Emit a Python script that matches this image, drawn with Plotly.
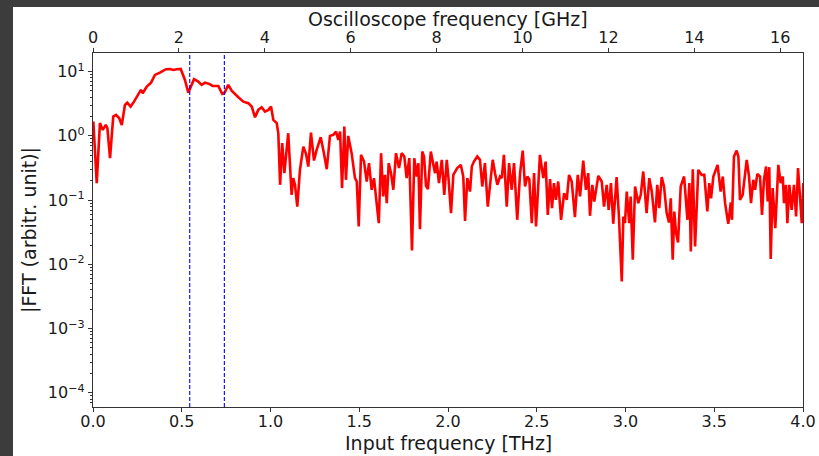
import plotly.graph_objects as go

# Input frequency (THz) and |FFT| amplitude
freq_thz = [
    0.002, 0.021, 0.039, 0.055, 0.072, 0.081, 0.096, 0.114, 0.130, 0.148,
    0.162, 0.180, 0.193, 0.212, 0.231, 0.246, 0.261, 0.270, 0.280, 0.303,
    0.327, 0.349, 0.377, 0.411, 0.434, 0.452, 0.472, 0.494, 0.518, 0.537,
    0.569, 0.593, 0.612, 0.631, 0.655, 0.674, 0.706, 0.728, 0.740, 0.762,
    0.781, 0.800, 0.819, 0.847, 0.875, 0.894, 0.913, 0.931, 0.950, 0.969,
    0.988, 1.003, 1.016, 1.035, 1.044, 1.054, 1.066, 1.078, 1.100, 1.119,
    1.128, 1.138, 1.151, 1.166, 1.185, 1.200, 1.213, 1.228, 1.245, 1.260,
    1.283, 1.301, 1.317, 1.335, 1.354, 1.369, 1.382, 1.392, 1.403, 1.416,
    1.425, 1.438, 1.457, 1.476, 1.486, 1.497, 1.510, 1.527, 1.542, 1.555,
    1.570, 1.583, 1.594, 1.610, 1.623, 1.635, 1.645, 1.655, 1.666, 1.679,
    1.692, 1.707, 1.724, 1.739, 1.754, 1.767, 1.782, 1.797, 1.810, 1.824,
    1.833, 1.842, 1.855, 1.865, 1.876, 1.887, 1.903, 1.917, 1.927, 1.936,
    1.949, 1.965, 1.979, 1.993, 2.002, 2.017, 2.030, 2.052, 2.072, 2.086,
    2.096, 2.109, 2.124, 2.134, 2.146, 2.165, 2.180, 2.193, 2.208, 2.224,
    2.237, 2.252, 2.265, 2.278, 2.293, 2.303, 2.315, 2.331, 2.344, 2.359,
    2.372, 2.390, 2.406, 2.421, 2.434, 2.447, 2.458, 2.472, 2.485, 2.496,
    2.518, 2.537, 2.550, 2.562, 2.575, 2.586, 2.597, 2.608, 2.621, 2.637,
    2.654, 2.669, 2.682, 2.697, 2.715, 2.731, 2.744, 2.762, 2.777, 2.790,
    2.800, 2.813, 2.824, 2.847, 2.866, 2.879, 2.894, 2.905, 2.918, 2.931,
    2.950, 2.963, 2.979, 2.988, 2.997, 3.007, 3.021, 3.029, 3.041, 3.054,
    3.072, 3.086, 3.100, 3.119, 3.134, 3.148, 3.166, 3.179, 3.190, 3.204,
    3.217, 3.232, 3.245, 3.255, 3.266, 3.275, 3.285, 3.296, 3.311, 3.330,
    3.349, 3.360, 3.368, 3.379, 3.392, 3.410, 3.429, 3.444, 3.461, 3.472,
    3.482, 3.495, 3.519, 3.536, 3.548, 3.561, 3.579, 3.593, 3.600, 3.611,
    3.626, 3.636, 3.645, 3.660, 3.683, 3.696, 3.707, 3.720, 3.730, 3.743,
    3.758, 3.769, 3.780, 3.792, 3.801, 3.810, 3.818, 3.829, 3.844, 3.861,
    3.874, 3.886, 3.893, 3.904, 3.912, 3.923, 3.936, 3.949, 3.961, 3.972,
    3.983, 3.993, 4.002,
]

fft_amp = [
    1.67, 0.184, 1.58, 1.24, 1.48, 1.32, 0.45, 2.0, 2.12, 1.88,
    1.48, 3.03, 3.30, 2.86, 3.41, 4.08, 4.61, 5.19, 4.61, 5.84,
    6.75, 8.89, 9.65, 10.9, 11.0, 10.6, 10.9, 11.0, 7.43, 4.71,
    7.62, 6.99, 6.21, 6.75, 6.44, 5.99, 5.99, 4.50, 4.61, 6.21,
    5.07, 4.45, 4.0, 3.41, 3.23, 2.86, 1.95, 2.54, 2.79, 2.39,
    2.54, 2.86, 1.77, 1.58, 1.10, 0.173, 0.77, 0.263, 1.10, 0.121,
    0.22, 0.173, 0.079, 0.296, 0.68, 0.525, 0.333, 1.12, 0.413, 0.606,
    0.955, 0.538, 0.303, 1.0, 1.04, 1.17, 0.867, 1.17, 0.154, 1.40,
    0.207, 1.0, 0.538, 0.22, 0.195, 0.0388, 0.507, 0.398, 0.195, 0.376,
    0.145, 0.22, 0.121, 0.0439, 0.538, 0.114, 0.247, 0.0898, 0.376, 0.263,
    0.145, 0.538, 0.315, 0.538, 0.477, 0.22, 0.45, 0.0164, 0.45, 0.233,
    0.376, 0.0354, 0.570, 0.477, 0.167, 0.148, 0.570, 0.376, 0.263, 0.398,
    0.184, 0.424, 0.121, 0.424, 0.233, 0.0628, 0.247, 0.315, 0.354, 0.233,
    0.0476, 0.22, 0.136, 0.333, 0.398, 0.477, 0.424, 0.163, 0.376, 0.079,
    0.163, 0.424, 0.263, 0.173, 0.233, 0.22, 0.507, 0.079, 0.376, 0.145,
    0.376, 0.0494, 0.263, 0.591, 0.163, 0.233, 0.212, 0.0439, 0.263, 0.0388,
    0.507, 0.22, 0.398, 0.059, 0.212, 0.075, 0.184, 0.101, 0.195, 0.0494,
    0.128, 0.101, 0.247, 0.195, 0.0544, 0.247, 0.114, 0.413, 0.145, 0.263,
    0.057, 0.173, 0.095, 0.239, 0.195, 0.079, 0.173, 0.0706, 0.184, 0.0428,
    0.228, 0.0556, 0.00542, 0.0556, 0.0439, 0.136, 0.0439, 0.114, 0.0118, 0.163,
    0.0898, 0.121, 0.279, 0.0628, 0.22, 0.136, 0.0449, 0.173, 0.075, 0.228,
    0.163, 0.0628, 0.0449, 0.107, 0.0118, 0.0665, 0.0307, 0.0219, 0.163, 0.233,
    0.0494, 0.184, 0.0159, 0.303, 0.019, 0.296, 0.247, 0.247, 0.0665, 0.184,
    0.107, 0.233, 0.354, 0.136, 0.233, 0.0898, 0.0428, 0.0918, 0.0494, 0.477,
    0.591, 0.477, 0.101, 0.121, 0.424, 0.233, 0.0898, 0.207, 0.145, 0.256,
    0.233, 0.059, 0.207, 0.333, 0.095, 0.326, 0.0121, 0.154, 0.0367, 0.354,
    0.184, 0.233, 0.0898, 0.173, 0.0439, 0.173, 0.0706, 0.173, 0.0556, 0.315,
    0.114, 0.0439, 0.184,
]

marker_freqs = [0.545, 0.74]          # dashed blue vertical lines (THz)
x_ticks = [0.0, 0.5, 1.0, 1.5, 2.0, 2.5, 3.0, 3.5, 4.0]
top_ticks = [0, 2, 4, 6, 8, 10, 12, 14, 16]
y_exponents = [-4, -3, -2, -1, 0, 1]
x_range = [0.0, 4.0]
top_range = [0.0, 16.53]
y_log_range = [-4.22, 1.29]

FONT = "DejaVu Sans"
AXC = "#333333"
TXT = "#1a1a1a"
TICKFONT = dict(size=16, color=TXT)
TITLEFONT = dict(family=FONT, size=19, color=TXT)

fig = go.Figure()
fig.add_trace(go.Scatter(
    x=freq_thz, y=fft_amp, mode="lines",
    line=dict(color="#ff0000", width=2.6),
    showlegend=False, hoverinfo="skip",
))
# empty trace so the top (oscilloscope GHz) axis is drawn
fig.add_trace(go.Scatter(
    x=top_ticks, y=[None] * len(top_ticks), xaxis="x2", mode="lines",
    showlegend=False, hoverinfo="skip",
))

for f in marker_freqs:
    fig.add_shape(type="line", xref="x", yref="paper", x0=f, x1=f, y0=0, y1=1,
                  line=dict(color="#0000ff", width=1.1, dash="4px,2px"), layer="above")

# dark frame strips seen in the screenshot (top and left)
fig.add_shape(type="rect", xref="paper", yref="paper", x0=-0.2, x1=-0.1127,
              y0=-0.3, y1=1.3, fillcolor="#3c3c3c", line_width=0, layer="below")
fig.add_shape(type="rect", xref="paper", yref="paper", x0=-0.2, x1=1.1,
              y0=1.1299, y1=1.3, fillcolor="#3c3c3c", line_width=0, layer="below")

# axis titles
fig.add_annotation(text="Input frequency [THz]", xref="paper", yref="paper",
                   x=0.5, y=-0.101, xanchor="center", yanchor="middle",
                   showarrow=False, font=TITLEFONT)
fig.add_annotation(text="Oscilloscope frequency [GHz]", xref="paper", yref="paper",
                   x=0.5, y=1.096, xanchor="center", yanchor="middle",
                   showarrow=False, font=TITLEFONT)

minor_vals = [m * 10.0 ** e for e in range(-5, 2) for m in range(2, 10)]

common = dict(showgrid=False, zeroline=False, showline=True, linecolor=AXC,
              linewidth=1.3, ticks="outside", ticklen=4, tickcolor=AXC,
              tickwidth=1, tickfont=TICKFONT, automargin=False)

fig.update_layout(
    width=819, height=456,
    margin=dict(l=93, r=16, t=53, b=49, autoexpand=False),
    paper_bgcolor="white", plot_bgcolor="white",
    font=dict(family=FONT, size=16, color=TXT),
    xaxis=dict(
        range=x_range, tickmode="array", tickvals=x_ticks,
        ticktext=[f"{v:.1f}" for v in x_ticks], ticklabelstandoff=-4,
        **common,
    ),
    xaxis2=dict(
        range=top_range, overlaying="x", side="top", anchor="y",
        tickmode="array", tickvals=top_ticks, ticktext=[str(v) for v in top_ticks],
        ticklabelstandoff=-2,
        **common,
    ),
    yaxis=dict(
        type="log", range=y_log_range, tickmode="array",
        tickvals=[10.0 ** e for e in y_exponents],
        ticktext=[f"10<sup>{str(e).replace('-', '−')}</sup>" for e in y_exponents],
        mirror=True,
        minor=dict(tickmode="array", tickvals=minor_vals, ticks="outside",
                   ticklen=2, tickcolor=AXC, showgrid=False),
        title=dict(text="|FFT (arbitr. unit)|", font=TITLEFONT, standoff=6),
        **common,
    ),
)

fig.write_html("out.html")
